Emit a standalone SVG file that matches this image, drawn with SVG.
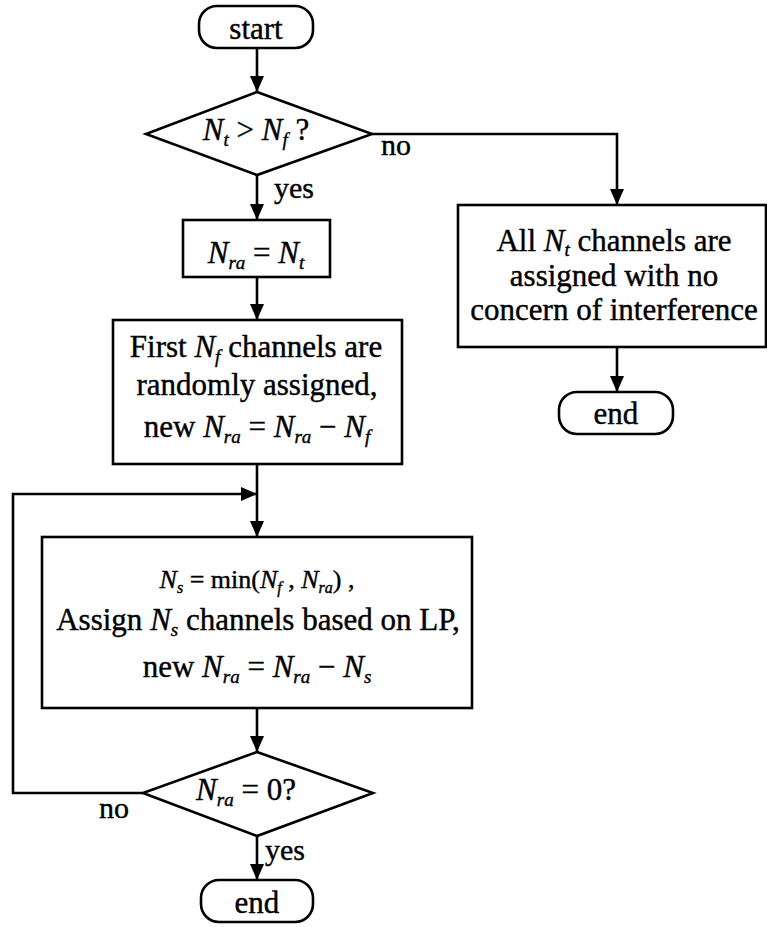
<svg xmlns="http://www.w3.org/2000/svg" width="767" height="927" viewBox="0 0 767 927">
<defs>
<marker id="arr" markerUnits="userSpaceOnUse" markerWidth="16" markerHeight="16" refX="16" refY="8" orient="auto">
<path d="M0,1 L16,8 L0,15 Z" fill="#000"/>
</marker>
<style>
.shape{fill:#fff;stroke:#000;stroke-width:2.6}
.conn{fill:none;stroke:#000;stroke-width:2.6}
text{font-family:"Liberation Serif","Times New Roman",serif;font-size:31px;fill:#000;stroke:#000;stroke-width:0.4}
.c{text-anchor:middle}
.i{font-style:italic}
.sub{font-style:italic;font-size:19px}
.lbl{font-size:30px}
</style>
</defs>
<rect width="767" height="927" fill="#fff"/>
<g id="connectors">
<path class="conn" d="M257,48 V92" marker-end="url(#arr)"/>
<path class="conn" d="M372,134 H617 V205" marker-end="url(#arr)"/>
<path class="conn" d="M257,175 V220" marker-end="url(#arr)"/>
<path class="conn" d="M257,277 V320" marker-end="url(#arr)"/>
<path class="conn" d="M257,464 V537" marker-end="url(#arr)"/>
<path class="conn" d="M257,708 V752" marker-end="url(#arr)"/>
<path class="conn" d="M257,836 V880" marker-end="url(#arr)"/>
<path class="conn" d="M143,793 H13 V494 H257" marker-end="url(#arr)"/>
<path class="conn" d="M617,347 V392" marker-end="url(#arr)"/>
<text class="lbl" x="381" y="155">no</text>
<text class="lbl" x="274" y="198">yes</text>
<text class="lbl" x="99" y="818">no</text>
<text class="lbl" x="265" y="860">yes</text>
</g>
<g id="start">
<rect class="shape" x="199" y="6" width="114" height="42" rx="18"/>
<text class="c" x="256" y="39">start</text>
</g>
<g id="decision1">
<polygon class="shape" points="257,92 372,134 257,175 146,134"/>
<text class="c" x="256" y="140"><tspan class="i">N</tspan><tspan class="sub" dy="6">t</tspan><tspan dy="-6"> &gt; </tspan><tspan class="i">N</tspan><tspan class="sub" dy="6">f</tspan><tspan dy="-6"> ?</tspan></text>
</g>
<g id="assign-nra">
<rect class="shape" x="183" y="220" width="147" height="57"/>
<text class="c" x="256" y="263"><tspan class="i">N</tspan><tspan class="sub" dy="6">ra</tspan><tspan dy="-6"> = </tspan><tspan class="i">N</tspan><tspan class="sub" dy="6">t</tspan></text>
</g>
<g id="first-nf">
<rect class="shape" x="113" y="320" width="289" height="144"/>
<text class="c"><tspan x="256" y="357">First <tspan class="i">N</tspan><tspan class="sub" dy="6">f</tspan><tspan dy="-6"> channels are</tspan></tspan><tspan x="257" y="395">randomly assigned,</tspan><tspan x="257" y="437">new <tspan class="i">N</tspan><tspan class="sub" dy="6">ra</tspan><tspan dy="-6"> = </tspan><tspan class="i">N</tspan><tspan class="sub" dy="6">ra</tspan><tspan dy="-6"> − </tspan><tspan class="i">N</tspan><tspan class="sub" dy="6">f</tspan></tspan></text>
</g>
<g id="lp-assign">
<rect class="shape" x="42" y="537" width="430" height="171"/>
<text class="c"><tspan x="257" y="588" style="font-size:26px"><tspan class="i">N</tspan><tspan class="sub" style="font-size:16px" dy="5">s</tspan><tspan dy="-5"> = min(</tspan><tspan class="i">N</tspan><tspan class="sub" style="font-size:16px" dy="5">f</tspan><tspan dy="-5"> , </tspan><tspan class="i">N</tspan><tspan class="sub" style="font-size:16px" dy="5">ra</tspan><tspan dy="-5">) ,</tspan></tspan><tspan x="258" y="630">Assign <tspan class="i">N</tspan><tspan class="sub" dy="6">s</tspan><tspan dy="-6"> channels based on LP,</tspan></tspan><tspan x="257" y="677">new <tspan class="i">N</tspan><tspan class="sub" dy="6">ra</tspan><tspan dy="-6"> = </tspan><tspan class="i">N</tspan><tspan class="sub" dy="6">ra</tspan><tspan dy="-6"> − </tspan><tspan class="i">N</tspan><tspan class="sub" dy="6">s</tspan></tspan></text>
</g>
<g id="decision2">
<polygon class="shape" points="257,752 373,793 257,836 143,793"/>
<text class="c" x="246" y="800"><tspan class="i">N</tspan><tspan class="sub" dy="6">ra</tspan><tspan dy="-6"> = 0?</tspan></text>
</g>
<g id="end1">
<rect class="shape" x="201" y="880" width="112" height="42" rx="18"/>
<text class="c" x="257" y="913">end</text>
</g>
<g id="all-nt">
<rect class="shape" x="458" y="205" width="308" height="142"/>
<text class="c"><tspan x="614" y="251">All <tspan class="i">N</tspan><tspan class="sub" dy="5">t</tspan><tspan dy="-5"> channels are</tspan></tspan><tspan x="614" y="286">assigned with no</tspan><tspan x="614" y="320">concern of interference</tspan></text>
</g>
<g id="end2">
<rect class="shape" x="559" y="392" width="114" height="42" rx="18"/>
<text class="c" x="616" y="424">end</text>
</g>
</svg>
